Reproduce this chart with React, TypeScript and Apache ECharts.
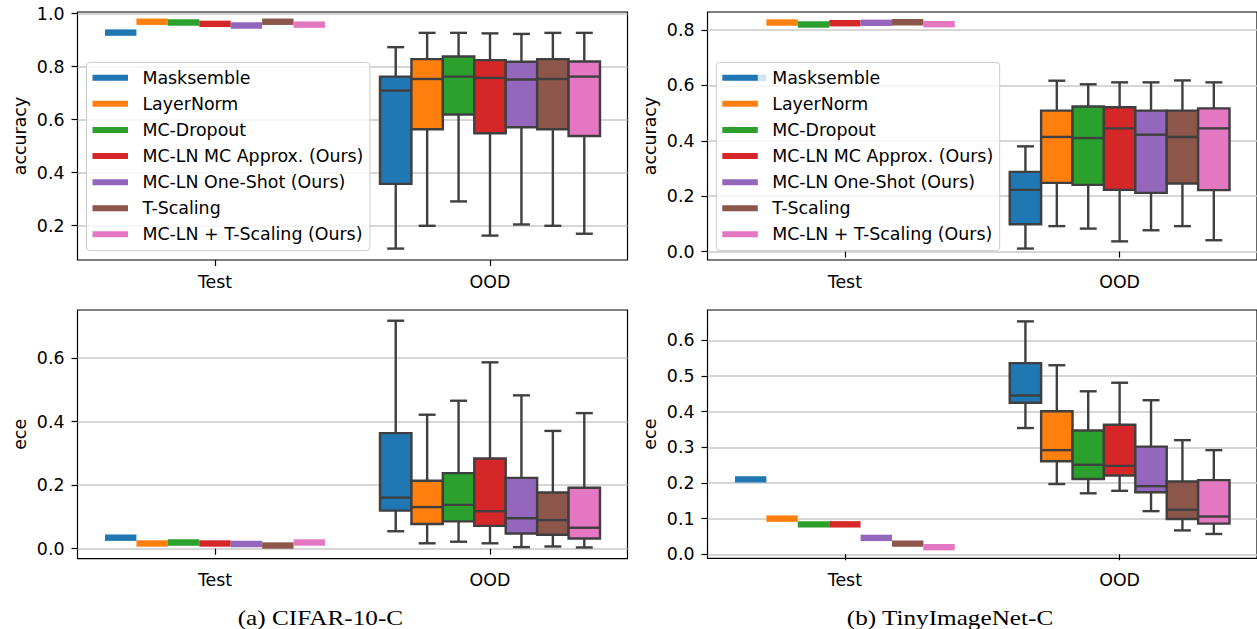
import React, { useEffect, useRef } from 'react';
import * as echarts from 'echarts';

const categories = ['Test', 'OOD'];
const methods = [
  'Masksemble',
  'LayerNorm',
  'MC-Dropout',
  'MC-LN MC Approx. (Ours)',
  'MC-LN One-Shot (Ours)',
  'T-Scaling',
  'MC-LN + T-Scaling (Ours)',
];
const colors = ['#1f77b4', '#ff7f0e', '#2ca02c', '#d62728', '#9467bd', '#8c564b', '#e377c2'];

// Test split: one value per method
const cifarAccTest = [0.928, 0.969, 0.966, 0.961, 0.955, 0.969, 0.958];
const tinyAccTest = [0.627, 0.827, 0.82, 0.8245, 0.826, 0.828, 0.821];
const cifarEceTest = [0.0347, 0.0164, 0.0195, 0.0164, 0.0148, 0.01, 0.0195];
const tinyEceTest = [0.21, 0.1, 0.084, 0.084, 0.046, 0.03, 0.02];

// OOD split: [lower whisker, Q1, median, Q3, upper whisker]
const cifarAccOod = [
  [0.113, 0.357, 0.709, 0.762, 0.873],
  [0.199, 0.563, 0.753, 0.828, 0.927],
  [0.291, 0.619, 0.762, 0.838, 0.927],
  [0.162, 0.548, 0.757, 0.824, 0.925],
  [0.204, 0.571, 0.751, 0.818, 0.923],
  [0.199, 0.563, 0.753, 0.828, 0.927],
  [0.169, 0.538, 0.762, 0.819, 0.927],
];
const tinyAccOod = [
  [0.011, 0.099, 0.223, 0.288, 0.38],
  [0.092, 0.248, 0.414, 0.509, 0.617],
  [0.083, 0.241, 0.41, 0.524, 0.604],
  [0.037, 0.223, 0.445, 0.521, 0.611],
  [0.077, 0.212, 0.422, 0.509, 0.611],
  [0.092, 0.246, 0.414, 0.509, 0.618],
  [0.041, 0.222, 0.445, 0.517, 0.611],
];
const cifarEceOod = [
  [0.055, 0.12, 0.161, 0.364, 0.718],
  [0.017, 0.078, 0.131, 0.214, 0.422],
  [0.022, 0.086, 0.138, 0.238, 0.466],
  [0.017, 0.072, 0.118, 0.284, 0.587],
  [0.005, 0.048, 0.096, 0.223, 0.483],
  [0.007, 0.044, 0.09, 0.177, 0.371],
  [0.004, 0.032, 0.066, 0.192, 0.427],
];
const tinyEceOod = [
  [0.354, 0.425, 0.445, 0.536, 0.653],
  [0.197, 0.261, 0.292, 0.401, 0.53],
  [0.171, 0.211, 0.251, 0.347, 0.457],
  [0.178, 0.221, 0.248, 0.363, 0.481],
  [0.121, 0.174, 0.191, 0.302, 0.432],
  [0.067, 0.099, 0.125, 0.204, 0.32],
  [0.057, 0.086, 0.106, 0.208, 0.292],
];

const accCifarTicks = [0.2, 0.4, 0.6, 0.8, 1.0];
const accTinyTicks = [0.0, 0.2, 0.4, 0.6, 0.8];
const eceCifarTicks = [0.0, 0.2, 0.4, 0.6];
const eceTinyTicks = [0.0, 0.1, 0.2, 0.3, 0.4, 0.5, 0.6];

const captions = ['(a) CIFAR-10-C', '(b) TinyImageNet-C'];

const FONT = 'DejaVu Sans';
const FS = 17.4;
const EDGE = '#3f3f3f';

const panels = [
  { name: 'accuracy', test: cifarAccTest, ood: cifarAccOod, ticks: accCifarTicks, min: 0.0699, max: 1.0057, left: 77.5, top: 12, height: 248 },
  { name: 'accuracy', test: tinyAccTest, ood: tinyAccOod, ticks: accTinyTicks, min: -0.0303, max: 0.865, left: 707.5, top: 12, height: 248 },
  { name: 'ece', test: cifarEceTest, ood: cifarEceOod, ticks: eceCifarTicks, min: -0.0315, max: 0.7518, left: 77.5, top: 310, height: 248.7 },
  { name: 'ece', test: tinyEceTest, ood: tinyEceOod, ticks: eceTinyTicks, min: -0.0112, max: 0.6849, left: 707.5, top: 310, height: 248.3 },
];

function makeRender(k: number, color: string) {
  return (params: any, api: any) => {
    const cat = api.value(0);
    const band = api.size([1, 0])[0];
    const bw = (band * 0.8) / methods.length;
    const base = api.coord([cat, api.value(3)]);
    const cx = base[0] + (k - (methods.length - 1) / 2) * bw;
    const x0 = cx - bw / 2;
    const yLow = api.coord([cat, api.value(1)])[1];
    const yQ1 = api.coord([cat, api.value(2)])[1];
    const yMed = base[1];
    const yQ3 = api.coord([cat, api.value(4)])[1];
    const yHigh = api.coord([cat, api.value(5)])[1];
    if (Math.abs(yQ1 - yQ3) < 0.5) {
      return {
        type: 'rect',
        shape: { x: x0, y: yMed - 3.2, width: bw, height: 6.4 },
        style: { fill: color },
      };
    }
    const ls = { stroke: EDGE, lineWidth: 2.4 };
    const cap = bw * 0.27;
    return {
      type: 'group',
      children: [
        { type: 'line', shape: { x1: cx, y1: yQ3, x2: cx, y2: yHigh }, style: ls },
        { type: 'line', shape: { x1: cx, y1: yQ1, x2: cx, y2: yLow }, style: ls },
        { type: 'line', shape: { x1: cx - cap, y1: yHigh, x2: cx + cap, y2: yHigh }, style: ls },
        { type: 'line', shape: { x1: cx - cap, y1: yLow, x2: cx + cap, y2: yLow }, style: ls },
        { type: 'rect', shape: { x: x0, y: yQ3, width: bw, height: yQ1 - yQ3 }, style: { fill: color, stroke: EDGE, lineWidth: 2.4 } },
        { type: 'line', shape: { x1: x0, y1: yMed, x2: x0 + bw, y2: yMed }, style: ls },
      ],
    };
  };
}

function buildOption() {
  const grid = panels.map((p) => ({
    left: p.left,
    top: p.top,
    width: 550,
    height: p.height,
    show: true,
    borderColor: '#000',
    borderWidth: 1.2,
    backgroundColor: 'transparent',
  }));
  const xAxis = panels.map((p, i) => ({
    type: 'category',
    gridIndex: i,
    data: categories,
    boundaryGap: true,
    axisLine: { show: false },
    axisTick: { show: true, alignWithLabel: true, length: 6, lineStyle: { color: '#000', width: 1.2 } },
    axisLabel: { color: '#000', fontFamily: FONT, fontSize: FS, lineHeight: 20, margin: 11.5 },
    splitLine: { show: false },
  }));
  const yAxis = panels.map((p, i) => ({
    type: 'value',
    gridIndex: i,
    min: p.min,
    max: p.max,
    name: p.name,
    nameLocation: 'middle',
    nameGap: 48,
    nameTextStyle: { color: '#000', fontFamily: FONT, fontSize: FS, lineHeight: 20 },
    axisLine: { show: false },
    axisTick: { show: true, length: 6, customValues: p.ticks, lineStyle: { color: '#000', width: 1.2 } },
    axisLabel: {
      color: '#000',
      fontFamily: FONT,
      fontSize: FS,
      margin: 13,
      customValues: p.ticks,
      formatter: (v: number) => v.toFixed(1),
    },
    splitLine: { show: true, lineStyle: { color: '#c8c8c8', width: 1.6 } },
  }));
  const series: any[] = [];
  panels.forEach((p, i) => {
    methods.forEach((m, k) => {
      const t = p.test[k];
      const o = p.ood[k];
      series.push({
        type: 'custom',
        name: m,
        xAxisIndex: i,
        yAxisIndex: i,
        itemStyle: { color: colors[k] },
        encode: { x: 0, y: [1, 2, 3, 4, 5] },
        data: [
          [0, t, t, t, t, t],
          [1, o[0], o[1], o[2], o[3], o[4]],
        ],
        renderItem: makeRender(k, colors[k]),
        z: 2,
      });
    });
  });
  const legendBase = {
    orient: 'vertical',
    top: 62.5,
    itemWidth: 35.5,
    itemHeight: 6,
    itemGap: 8.6,
    padding: [6.5, 6.5, 7.5, 6],
    backgroundColor: 'rgba(255,255,255,0.8)',
    borderColor: '#cccccc',
    borderWidth: 1,
    borderRadius: 3.5,
    selectedMode: false,
    icon: 'rect',
    z: 10,
    textStyle: { fontSize: FS, fontFamily: FONT, color: '#000', lineHeight: 17.5, padding: [0, 0, 0, 9.4] },
    data: methods.map((m, k) => ({ name: m, icon: 'rect', itemStyle: { color: colors[k] } })),
  };
  const legend = [
    { ...legendBase, left: 86.5 },
    { ...legendBase, left: 716.3 },
  ];
  const graphic = [
    {
      type: 'text',
      x: 320.4,
      y: 618,
      scaleX: 1.2,
      style: { text: captions[0], fontFamily: 'Liberation Serif', fontSize: 21, fill: '#000', align: 'center', verticalAlign: 'middle' },
    },
    {
      type: 'text',
      x: 950,
      y: 618,
      scaleX: 1.2,
      style: { text: captions[1], fontFamily: 'Liberation Serif', fontSize: 21, fill: '#000', align: 'center', verticalAlign: 'middle' },
    },
  ];
  return { animation: false, backgroundColor: '#fff', grid, xAxis, yAxis, series, legend, graphic };
}

export default function App() {
  const ref = useRef<HTMLDivElement>(null);
  useEffect(() => {
    const chart = echarts.init(ref.current as HTMLDivElement, null, { renderer: 'svg', width: 1257, height: 629 });
    chart.setOption(buildOption() as any);
    return () => chart.dispose();
  }, []);
  return <div ref={ref} style={{ position: 'absolute', left: 0, top: 0, width: 1257, height: 629 }} />;
}
